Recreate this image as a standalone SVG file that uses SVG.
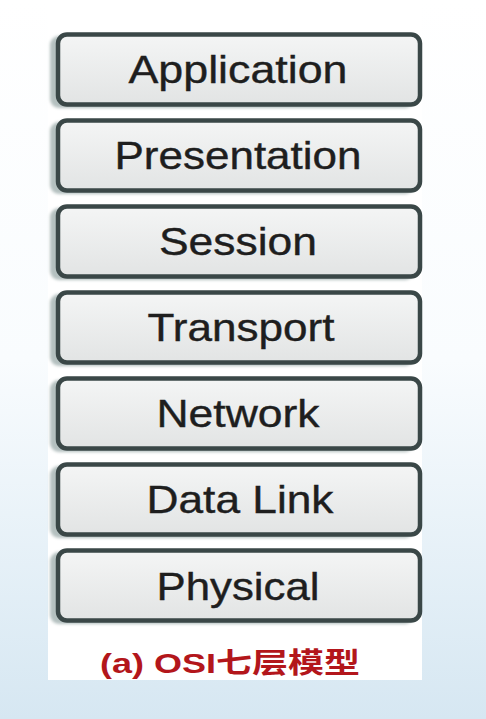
<svg xmlns="http://www.w3.org/2000/svg" width="486" height="719" viewBox="0 0 486 719">
<defs>
<linearGradient id="bg" x1="0" y1="0" x2="0" y2="1">
<stop offset="0" stop-color="#ffffff"/>
<stop offset="0.5" stop-color="#f9fcfe"/>
<stop offset="1" stop-color="#d6e7f2"/>
</linearGradient>
<linearGradient id="boxfill" x1="0" y1="0" x2="0" y2="1">
<stop offset="0" stop-color="#f4f5f5"/>
<stop offset="1" stop-color="#e2e4e4"/>
</linearGradient>
<filter id="blur" x="-10%" y="-20%" width="120%" height="140%">
<feGaussianBlur stdDeviation="1.5"/>
</filter>
</defs>
<style>
.shadow{fill:#b4c0bf;filter:url(#blur)}
.box{fill:url(#boxfill);stroke:#3a4747;stroke-width:4.5}
.lbl{font-family:"Liberation Sans",Arial,sans-serif;font-size:39px;fill:#1e1e1e;text-anchor:middle;stroke:#1e1e1e;stroke-width:0.4}
.cap{font-family:"Liberation Sans","Noto Sans CJK SC",sans-serif;font-size:28px;font-weight:bold;fill:#b3161b;text-anchor:middle}
</style>
<rect x="0" y="0" width="486" height="719" fill="url(#bg)"/>
<rect x="48" y="0" width="374" height="680" fill="#ffffff"/>
<g id="application">
<rect class="shadow" x="50" y="36" width="364" height="72" rx="9"/>
<rect class="box" x="58" y="34.5" width="362" height="70" rx="9"/>
<text class="lbl" x="238" y="83" textLength="219" lengthAdjust="spacingAndGlyphs">Application</text>
</g>
<g id="presentation">
<rect class="shadow" x="50" y="122" width="364" height="72" rx="9"/>
<rect class="box" x="58" y="120.5" width="362" height="70" rx="9"/>
<text class="lbl" x="238" y="169" textLength="247" lengthAdjust="spacingAndGlyphs">Presentation</text>
</g>
<g id="session">
<rect class="shadow" x="50" y="208" width="364" height="72" rx="9"/>
<rect class="box" x="58" y="206.5" width="362" height="70" rx="9"/>
<text class="lbl" x="238" y="255" textLength="158" lengthAdjust="spacingAndGlyphs">Session</text>
</g>
<g id="transport">
<rect class="shadow" x="50" y="294" width="364" height="72" rx="9"/>
<rect class="box" x="58" y="292.5" width="362" height="70" rx="9"/>
<text class="lbl" x="241" y="341" textLength="187" lengthAdjust="spacingAndGlyphs">Transport</text>
</g>
<g id="network">
<rect class="shadow" x="50" y="380" width="364" height="72" rx="9"/>
<rect class="box" x="58" y="378.5" width="362" height="70" rx="9"/>
<text class="lbl" x="238" y="427" textLength="163" lengthAdjust="spacingAndGlyphs">Network</text>
</g>
<g id="datalink">
<rect class="shadow" x="50" y="466" width="364" height="72" rx="9"/>
<rect class="box" x="58" y="464.5" width="362" height="70" rx="9"/>
<text class="lbl" x="240" y="513" textLength="187" lengthAdjust="spacingAndGlyphs">Data Link</text>
</g>
<g id="physical">
<rect class="shadow" x="50" y="552" width="364" height="72" rx="9"/>
<rect class="box" x="58" y="550.5" width="362" height="70" rx="9"/>
<text class="lbl" x="238" y="600" textLength="163" lengthAdjust="spacingAndGlyphs">Physical</text>
</g>
<g id="connectors"></g>
<text id="caption" class="cap" x="230" y="673" textLength="260" lengthAdjust="spacingAndGlyphs">(a) OSI七层模型</text>
</svg>
